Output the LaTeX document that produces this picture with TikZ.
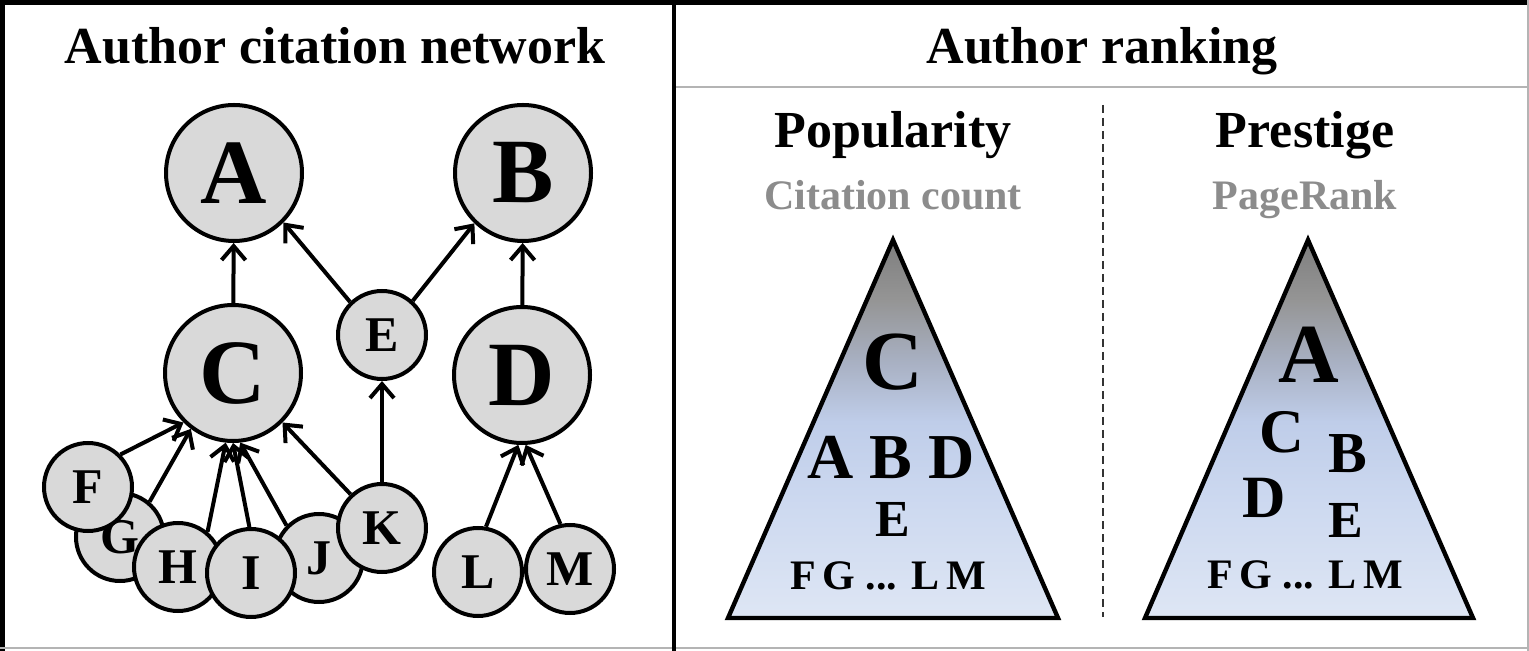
\documentclass[tikz,border=0pt]{standalone}
\usepackage{fontspec}
\setmainfont{Liberation Serif}
\usetikzlibrary{arrows.meta}
\definecolor{nodegray}{HTML}{D9D9D9}
\definecolor{subgray}{HTML}{8C8C8C}
\definecolor{rulegray}{HTML}{B4B4B4}
\definecolor{triA}{HTML}{7E7E7E}
\definecolor{triB}{HTML}{959595}
\definecolor{triC}{HTML}{A8B0C2}
\definecolor{triD}{HTML}{BFCDE9}
\definecolor{triE}{HTML}{CDD9F0}
\definecolor{triF}{HTML}{DEE6F4}
\pgfdeclareverticalshading{pyramidshade}{100bp}{color(0bp)=(triF); color(25bp)=(triF); color(40bp)=(triE); color(51bp)=(triD); color(59bp)=(triC); color(67bp)=(triB); color(75bp)=(triA); color(100bp)=(triA)}
\newcommand\fsz[1]{\fontsize{#1}{#1}\selectfont\bfseries}
\begin{document}
\begin{tikzpicture}[x=0.5pt,y=-0.5pt,
  bignode/.style={circle,draw,line width=2pt,fill=nodegray,minimum size=68pt,inner sep=0pt,font=\fsz{46pt}},
  smallnode/.style={circle,draw,line width=2pt,fill=nodegray,minimum size=44pt,inner sep=0pt,font=\fsz{25pt}},
  cite/.style={line width=2pt,-{Straight Barb[length=7pt,width=12pt]}},
  heading/.style={anchor=base,inner sep=0pt,font=\fsz{26pt}},
  subheading/.style={anchor=base,inner sep=0pt,font=\fsz{21pt},text=subgray},
  ranklabel/.style={inner sep=0pt},
  tri/.style={line width=2.2pt,line join=miter},
  trishade/.style={shading=pyramidshade}
]
\useasboundingbox (0,0) rectangle (1529,651);
\fill[white] (0,0) rectangle (1529,651);

% frame
\draw[line width=2.5pt] (0,2.5) -- (1529,2.5);
\draw[line width=2.5pt] (2.5,0) -- (2.5,651);
\draw[rulegray,line width=1pt] (1528,0) -- (1528,651);
\draw[rulegray,line width=1pt] (0,648) -- (1529,648);
\draw[line width=2pt] (673.5,0) -- (673.5,651);
\draw[rulegray,line width=1pt] (676,87) -- (1527,87);
\draw[black!80,line width=1pt,dash pattern=on 4pt off 2.5pt] (1103,105) -- (1103,617);

% headings
\node[heading] (t1) at (335,64) {Author citation network};
\node[heading] (t2) at (1102,64) {Author ranking};
\node[heading] (pop) at (893,148) {Popularity};
\node[heading] (pre) at (1305,148) {Prestige};
\node[subheading] (cc) at (893,210) {Citation count};
\node[subheading] (pr) at (1305,210) {PageRank};

% network nodes
\node[bignode] (A) at (234,173) {A};
\node[bignode] (B) at (523,173) {B};
\node[bignode] (C) at (233,373) {C};
\node[bignode] (D) at (522,375) {D};
\node[smallnode] (E) at (382,335) {E};
\node[smallnode] (G) at (120,537) {G};
\node[smallnode] (H) at (178,567) {H};
\node[smallnode] (F) at (88,487) {F};
\node[smallnode] (J) at (319,558) {J};
\node[smallnode] (I) at (251,573) {I};
\node[smallnode] (K) at (382,528) {K};
\node[smallnode] (L) at (478,572) {L};
\node[smallnode] (M) at (570,569) {M};

% citations
\draw[cite] (C) -- (A);
\draw[cite] (E.134) -- (A.315);
\draw[cite] (E.48) -- (B.226);
\draw[cite] (D) -- (B);
\draw[cite] (F.45) -- (C.225);
\draw[cite] (G.50) -- (C.233);
\draw[cite] (H.50) -- (C.264);
\draw[cite] (I.92) -- (C.270);
\draw[cite] (J.135) -- (C.276);
\draw[cite] (K.133) -- (C.315);
\draw[cite] (K) -- (E);
\draw[cite] (L.80) -- (D.267);
\draw[cite] (M.102) -- (D.273);

% pyramids
\coordinate (p1) at (893,240);
\coordinate (p1l) at (728,618);
\coordinate (p1r) at (1058,618);
\coordinate (p2) at (1308,240);
\coordinate (p2l) at (1145,618);
\coordinate (p2r) at (1473,618);
\shade[trishade] (p1) -- (p1l) -- (p1r) -- cycle;
\draw[tri] (p1) -- (p1l) -- (p1r) -- cycle;
\shade[trishade] (p2) -- (p2l) -- (p2r) -- cycle;
\draw[tri] (p2) -- (p2l) -- (p2r) -- cycle;

% popularity ranking
\node[ranklabel,font=\fsz{42pt}] (r1c) at (893,362) {C};
\node[ranklabel,font=\fsz{32pt}] (r1abd) at (891,457) {A B D};
\node[ranklabel,font=\fsz{26pt}] (r1e) at (893,519) {E};
\node[ranklabel,font=\fsz{21pt}] (r1f) at (888,575.5) {F\,G ... L\,M};

% prestige ranking
\node[ranklabel,font=\fsz{42pt}] (r2a) at (1309,355) {A};
\node[ranklabel,font=\fsz{31pt}] (r2c) at (1282,432) {C};
\node[ranklabel,font=\fsz{29pt}] (r2b) at (1348,454) {B};
\node[ranklabel,font=\fsz{30pt}] (r2d) at (1264,498) {D};
\node[ranklabel,font=\fsz{26pt}] (r2e) at (1346,520) {E};
\node[ranklabel,font=\fsz{21pt}] (r2f) at (1305,575) {F\,G ... L\,M};
\end{tikzpicture}
\end{document}
